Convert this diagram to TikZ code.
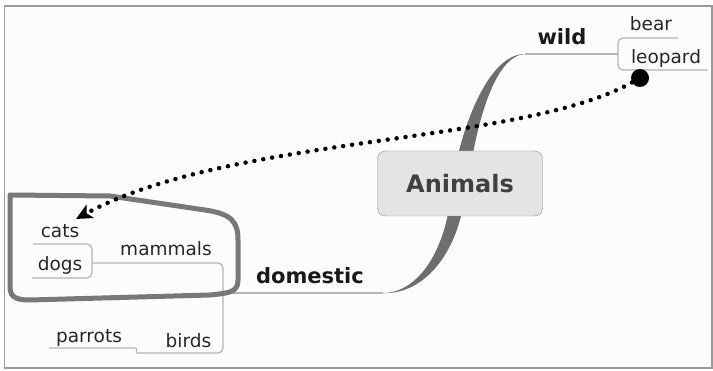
\documentclass[tikz,border=0pt]{standalone}
\usepackage{fontspec}
\setmainfont{DejaVu Sans}
\usetikzlibrary{arrows.meta}
\definecolor{branchgray}{HTML}{6E6E6E}
\definecolor{linegray}{HTML}{B4B4B4}
\definecolor{boxgray}{HTML}{E4E4E4}
\definecolor{lassogray}{HTML}{787878}

\begin{document}
\begin{tikzpicture}[x=1pt,y=-1pt,node distance=34pt,
  topic node/.style={draw=black!45,fill=boxgray,rounded corners=8pt,minimum width=165pt,minimum height=65pt,text=black!75,font=\fontsize{24}{28}\selectfont\bfseries},
  main node/.style={inner sep=0pt,text=black!90,font=\fontsize{21}{24}\selectfont\bfseries},
  leaf node/.style={inner sep=0pt,text=black!85,font=\fontsize{18.5}{20}\selectfont},
  thin line/.style={draw=linegray,line width=1.2pt,rounded corners=5pt},
  lasso/.style={draw=lassogray,line width=5pt,line join=round},
  dotted link/.style={line width=4.5pt,line cap=round,dash pattern=on 0pt off 9pt,-{Stealth[length=16pt,width=15pt,inset=4pt]}}]
  \useasboundingbox (0,0) rectangle (713,371);
  \draw[draw=black!40,fill=black!1,line width=1.5pt] (4.5,6) rectangle (712,368);

  \coordinate (w) at (525,54);
  \coordinate (d) at (383,293);
  \fill[branchgray] (w) .. controls (490,54) and (463,120) .. (452,183) -- (468,183) .. controls (477,120) and (495,56) .. (w) -- cycle;
  \fill[branchgray] (d) .. controls (418,293) and (448,250) .. (452,183) -- (466,183) .. controls (462,250) and (425,295) .. (d) -- cycle;

  \node[topic node] (animals) at (460,183.5) {Animals};
  \node[main node] (wild) at (562,36.5) {wild};
  \node[main node] (domestic) at (310,276) {domestic};
  \node[leaf node] (bear) at (651,23.5) {bear};
  \node[leaf node] (leopard) at (666,58) {leopard};
  \node[leaf node] (mammals) at (166,248.3) {mammals};
  \node[leaf node] (birds) at (188.5,340.7) {birds};
  \node[leaf node] (parrots) at (89,337.5) {parrots};
  \node[leaf node] (cats) at (60,231) {cats};
  \node[leaf node] (dogs) [below of=cats] {dogs};

  \coordinate (wildjoin) at (618,54);
  \coordinate (domjoin) at (223,293);
  \coordinate (petjoin) at (92,263);
  \draw[thin line] (w) -- (wildjoin);
  \draw[thin line] (678,38) -- (618,38) -- (wildjoin) -- (618,70) -- (708,70);
  \draw[thin line] (d) -- (domjoin);
  \draw[thin line] (petjoin) -- (223,263) -- (domjoin) -- (223,353) -- (142,353) .. controls (136,353) and (137,348) .. (131,348) -- (49,348);
  \draw[thin line] (33,244) -- (92,244) -- (petjoin) -- (92,278) -- (32,278);

  \draw[lasso] (10,195) -- (110,196) -- (205,210) .. controls (232,214) and (238,222) .. (238,240) -- (238,280) .. controls (238,292) and (230,293) .. (210,295) -- (30,300) .. controls (12,300) and (10,295) .. (10,285) -- cycle;

  \node[circle,fill=black,inner sep=0pt,minimum size=18pt] (dot) at (640,78) {};
  \coordinate (cattip) at (76,219);
  \draw[dotted link] (dot) .. controls (520,145) and (230,135) .. (cattip);
\end{tikzpicture}
\end{document}
